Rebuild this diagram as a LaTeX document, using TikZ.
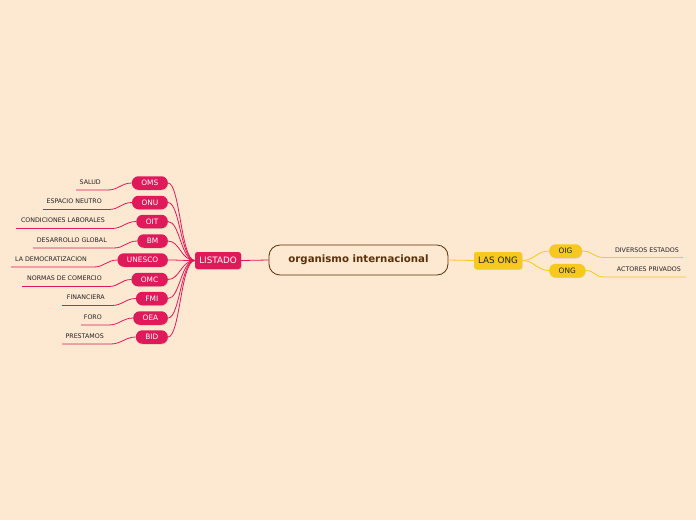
\documentclass[tikz,border=0pt]{standalone}
\usepackage{fontspec}
\setmainfont{DejaVu Sans}
\usetikzlibrary{shadows}
\definecolor{bg}{HTML}{FDE8D1}
\definecolor{crim}{HTML}{E0195A}
\definecolor{yel}{HTML}{F7C81E}
\definecolor{brn}{HTML}{5A3008}
\definecolor{dtxt}{HTML}{222222}
\tikzset{
  pill/.style={fill=crim, text=white, rounded corners=6.5pt, minimum height=13.5pt, inner xsep=9.5pt, inner ysep=0pt, font=\fontsize{7.4}{8}\selectfont, drop shadow={opacity=0.25, shadow xshift=0.5pt, shadow yshift=-0.8pt}},
  ypill/.style={pill, fill=yel, text=dtxt},
  lbl/.style={inner sep=0pt, text=dtxt, font=\fontsize{6.3}{7}\selectfont},
  rline/.style={draw=crim, line width=0.8pt},
  yline/.style={draw=yel, line width=0.8pt},
}
\begin{document}
\begin{tikzpicture}[x=1pt,y=-1pt]
\fill[bg] (0,0) rectangle (696,520);
\useasboundingbox (0,0) rectangle (696,520);
% central
\node[draw=brn, line width=0.8pt, fill=bg, rounded corners=11pt, minimum width=179pt, minimum height=30pt, text=brn, font=\bfseries\fontsize{10.2}{12}\selectfont] (C) at (358.5,260) {organismo internacional};
\node[pill, rounded corners=2.5pt, minimum height=17pt, minimum width=46pt, inner xsep=3pt, font=\fontsize{8.8}{10}\selectfont] (L) at (218,260.5) {LISTADO};
\node[ypill, rounded corners=2.5pt, minimum height=17pt, minimum width=48pt, inner xsep=3pt, font=\fontsize{8.8}{10}\selectfont] (G) at (498,260.5) {LAS ONG};
\draw[rline] (L.east) -- (C.west);
\draw[yline] (C.east) -- (G.west);
% left children
\foreach \n/\lab/\pl/\y/\tx/\ux in {
  a/SALUD/OMS/183/101/76,
  b/ESPACIO NEUTRO/ONU/202.5/102/43,
  c/CONDICIONES LABORALES/OIT/221.5/105/16,
  d/DESARROLLO GLOBAL/BM/241/107/33,
  e/LA DEMOCRATIZACION/UNESCO/260/87/11,
  f/NORMAS DE COMERCIO/OMC/279.5/102/22,
  g/FINANCIERA/FMI/298.5/105/62,
  h/FORO/OEA/318/102/81,
  i/PRESTAMOS/BID/337/104/62}{
  \node[pill, anchor=east] (p\n) at (168,\y) {\pl};
  \node[lbl, anchor=east] (l\n) at (\tx,\y-1) {\lab};
  \coordinate (u\n) at (\ux,\y+7);
  \coordinate (v\n) at (\tx+7,\y+7);
  \draw[rline] (u\n) -- (v\n) .. controls +(10,0) and +(-10,0) .. (p\n.west);
  \draw[rline] (L.west) .. controls +(-14,0) and +(12,0) .. (p\n.east);
}
% right children
\node[ypill, anchor=west] (o1) at (549,251) {OIG};
\node[ypill, anchor=west] (o2) at (549,270.5) {ONG};
\draw[yline] (G.east) .. controls +(12,0) and +(-12,0) .. (o1.west);
\draw[yline] (G.east) .. controls +(12,0) and +(-12,0) .. (o2.west);
\node[lbl, anchor=east] (r1) at (679,250.5) {DIVERSOS ESTADOS};
\node[lbl, anchor=east] (r2) at (681,269.5) {ACTORES PRIVADOS};
\coordinate (s1) at (604,257.5);
\coordinate (t1) at (683,257.5);
\coordinate (s2) at (604,277);
\coordinate (t2) at (686,277);
\draw[yline] (o1.east) .. controls +(10,0) and +(-10,0) .. (s1) -- (t1);
\draw[yline] (o2.east) .. controls +(10,0) and +(-10,0) .. (s2) -- (t2);
\end{tikzpicture}
\end{document}
